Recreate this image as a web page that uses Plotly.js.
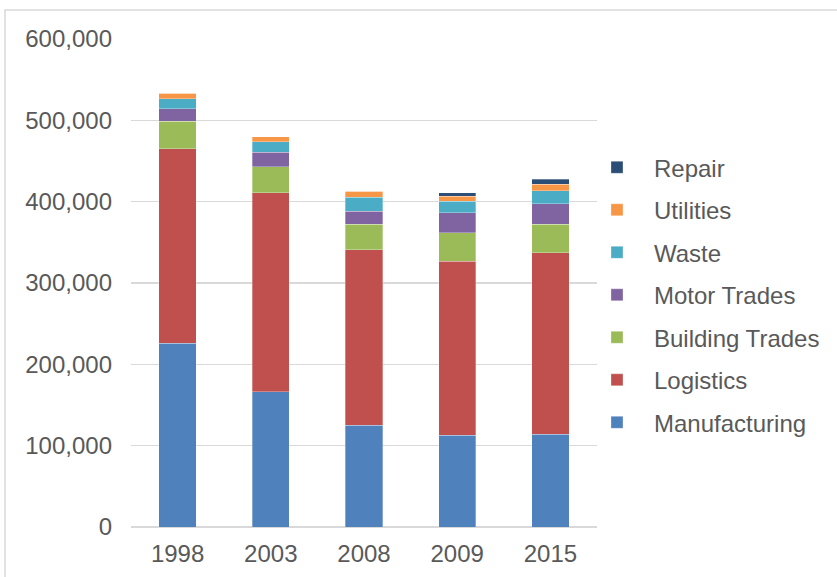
<!DOCTYPE html>
<html>
<head>
<meta charset="utf-8">
<script src="https://cdn.plot.ly/plotly-3.0.1.min.js"></script>
<style>html,body{margin:0;padding:0;background:#fff;}#chart{width:837px;height:577px;}</style>
</head>
<body>
<div id="chart"></div>
<script>
const years = ["1998", "2003", "2008", "2009", "2015"];
const manufacturing = [226000, 166000, 125000, 113000, 114000];
const logistics = [239000, 245000, 216000, 214000, 223000];
const buildingTrades = [34000, 32000, 31000, 35000, 35000];
const motorTrades = [15500, 18000, 16500, 24500, 25500];
const waste = [12000, 12500, 17000, 14000, 16000];
const utilities = [7000, 6500, 7500, 6000, 8000];
const repair = [0, 0, 0, 4500, 6000];

const seriesNames = ["Manufacturing", "Logistics", "Building Trades", "Motor Trades", "Waste", "Utilities", "Repair"];
const seriesValues = [manufacturing, logistics, buildingTrades, motorTrades, waste, utilities, repair];
const seriesColors = ["#4F81BD", "#C0504D", "#9BBB59", "#8064A2", "#4BACC6", "#F79646", "#2C4D75"];

const traces = seriesNames.map((name, i) => ({
  type: "bar",
  name: name,
  x: years,
  y: seriesValues[i],
  legendgroup: "g" + i,
  legendrank: 1000 - i,
  marker: { color: seriesColors[i], line: { color: "rgba(255,255,255,0.5)", width: 0.6 } },
  hoverinfo: "x+y+name"
}));

const font = { family: "Liberation Sans, Arial, sans-serif", size: 24, color: "#595959" };

const layout = {
  width: 837,
  height: 577,
  margin: { l: 131, r: 240, t: 39, b: 50, autoexpand: false },
  paper_bgcolor: "#ffffff",
  plot_bgcolor: "#ffffff",
  barmode: "stack",
  bargap: 0.6,
  font: font,
  showlegend: true,
  legend: {
    traceorder: "grouped",
    tracegroupgap: 8.3,
    itemwidth: 64,
    x: 0.9635, xanchor: "left",
    y: 0.475, yanchor: "middle",
    font: font,
    bgcolor: "rgba(0,0,0,0)"
  },
  xaxis: {
    type: "category",
    showgrid: false,
    showline: false,
    ticks: "",
    ticklabelstandoff: 10,
    tickfont: font,
    fixedrange: true
  },
  yaxis: {
    range: [0, 600000],
    dtick: 100000,
    tickformat: ",d",
    showgrid: true,
    gridcolor: "#d9d9d9",
    gridwidth: 1.5,
    zeroline: true,
    zerolinecolor: "#d9d9d9",
    zerolinewidth: 1.5,
    showline: false,
    ticks: "",
    ticklabelstandoff: 18,
    tickfont: font,
    fixedrange: true
  },
  shapes: [{
    type: "rect", xref: "paper", yref: "paper",
    x0: -0.2704, x1: 2, y0: -1, y1: 1.0594,
    line: { color: "#d9d9d9", width: 1.5 },
    fillcolor: "rgba(0,0,0,0)",
    layer: "below"
  }]
};

Plotly.newPlot("chart", traces, layout, { displayModeBar: false, staticPlot: true });
</script>
</body>
</html>
